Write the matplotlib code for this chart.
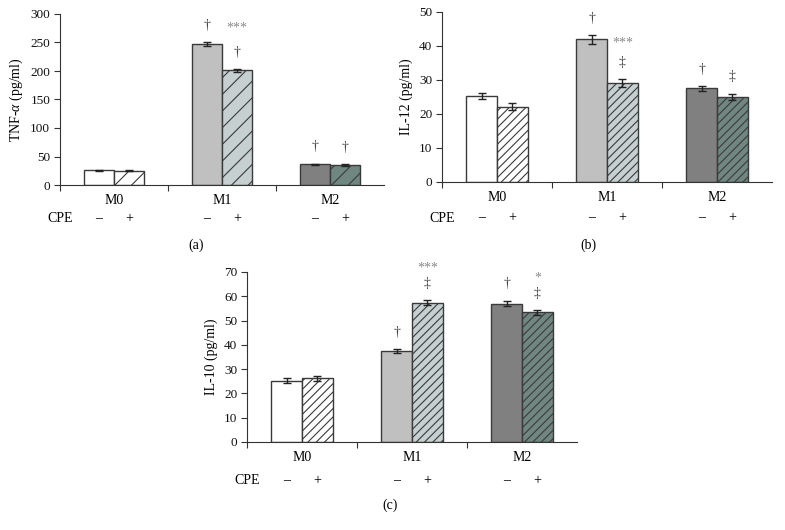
import numpy as np
import matplotlib
matplotlib.use("Agg")
import matplotlib.pyplot as plt

plt.rcParams['font.family'] = ['Liberation Serif', 'DejaVu Serif']
plt.rcParams['mathtext.fontset'] = 'custom'
plt.rcParams['mathtext.it'] = 'Liberation Serif:italic'
plt.rcParams['mathtext.rm'] = 'Liberation Serif'
plt.rcParams['hatch.linewidth'] = 0.8

# --- data ---
groups = ["M0", "M1", "M2"]
cpe_labels = ["–", "+"]

tnf_minus = [26, 247, 36]
tnf_minus_err = [1.0, 3.0, 1.5]
tnf_plus = [25, 201, 35]
tnf_plus_err = [1.0, 3.0, 1.5]
tnf_minus_marks = [[], ["†"], ["†"]]
tnf_plus_marks = [[], ["†", "***"], ["†"]]

il12_minus = [25.3, 42.0, 27.5]
il12_minus_err = [1.0, 1.3, 0.8]
il12_plus = [22.1, 29.1, 25.0]
il12_plus_err = [1.0, 1.1, 1.0]
il12_minus_marks = [[], ["†"], ["†"]]
il12_plus_marks = [[], ["‡", "***"], ["‡"]]

il10_minus = [25.2, 37.5, 57.0]
il10_minus_err = [1.0, 0.8, 1.2]
il10_plus = [26.2, 57.3, 53.4]
il10_plus_err = [1.0, 1.0, 1.0]
il10_minus_marks = [[], ["†"], ["†"]]
il10_plus_marks = [[], ["‡", "***"], ["‡", "*"]]

# colours: plain bar, hatched bar per group
minus_colors = ["#ffffff", "#c0c0c0", "#808080"]
plus_colors = ["#ffffff", "#c6d0d0", "#6f8681"]
edge = "#3a3a3a"

fig = plt.figure(figsize=(7.85, 5.3), dpi=100)
W, H = 785, 530


def px_axes(left, top, right, bottom):
    return fig.add_axes([left / W, 1 - bottom / H, (right - left) / W, (bottom - top) / H])


def panel(ax, minus, minus_err, plus, plus_err, mmarks, pmarks,
          ylabel, ymax, ystep, hatch, cpe_off, gap):
    x = np.arange(len(groups))
    w = 0.28
    for i in range(len(groups)):
        ax.bar(x[i] - w / 2, minus[i], w, color=minus_colors[i], edgecolor=edge,
               linewidth=1.0, zorder=2)
        ax.bar(x[i] + w / 2, plus[i], w, color=plus_colors[i], edgecolor=edge,
               linewidth=1.0, hatch=hatch, zorder=2)
    ax.errorbar(x - w / 2, minus, yerr=minus_err, fmt='none', ecolor='#222222',
                elinewidth=1.0, capsize=3, capthick=1.0, zorder=3)
    ax.errorbar(x + w / 2, plus, yerr=plus_err, fmt='none', ecolor='#222222',
                elinewidth=1.0, capsize=3, capthick=1.0, zorder=3)

    # significance marks stacked above error bars
    for xs, vals, errs, marks in [(x - w / 2, minus, minus_err, mmarks),
                                  (x + w / 2, plus, plus_err, pmarks)]:
        for xi, v, e, mk in zip(xs, vals, errs, marks):
            for k, s in enumerate(mk):
                col = '#8a8a8a' if '*' in s else '#444444'
                ax.annotate(s, (xi, v + e), xytext=(0, 12 + gap * k),
                            textcoords='offset points', ha='center', va='center',
                            fontsize=10, color=col)

    ax.set_xlim(-0.5, len(groups) - 0.5)
    ax.set_ylim(0, ymax)
    ax.set_yticks(np.arange(0, ymax + 1, ystep))
    ax.set_xticks([-0.5, 0.5, 1.5])
    ax.set_xticklabels([])
    ax.tick_params(axis='both', direction='out', length=4, width=0.8,
                   colors='#333333', labelsize=9.5, labelcolor='#111111')
    ax.tick_params(axis='y', pad=3)
    for side in ['top', 'right']:
        ax.spines[side].set_visible(False)
    for side in ['left', 'bottom']:
        ax.spines[side].set_color('#333333')
        ax.spines[side].set_linewidth(0.8)
    ax.set_ylabel(ylabel, fontsize=10, labelpad=4)

    trans = ax.get_xaxis_transform()
    for i, g in enumerate(groups):
        ax.annotate(g, (x[i], 0), xycoords=trans, xytext=(0, -11),
                    textcoords='offset points', ha='center', va='center', fontsize=10)
        ax.annotate(cpe_labels[0], (x[i] - w / 2, 0), xycoords=trans,
                    xytext=(0, -cpe_off), textcoords='offset points',
                    ha='center', va='center', fontsize=10)
        ax.annotate(cpe_labels[1], (x[i] + w / 2, 0), xycoords=trans,
                    xytext=(0, -cpe_off), textcoords='offset points',
                    ha='center', va='center', fontsize=10)
    ax.annotate("CPE", (-0.5, 0), xycoords=trans, xytext=(0, -cpe_off),
                textcoords='offset points', ha='center', va='center', fontsize=10)


ax_a = px_axes(60, 14, 384, 185)
panel(ax_a, tnf_minus, tnf_minus_err, tnf_plus, tnf_plus_err,
      tnf_minus_marks, tnf_plus_marks, r"TNF-$\it{\alpha}$ (pg/ml)", 300, 50, '//', 24, 17)

ax_b = px_axes(442, 12, 772, 182)
panel(ax_b, il12_minus, il12_minus_err, il12_plus, il12_plus_err,
      il12_minus_marks, il12_plus_marks, "IL-12 (pg/ml)", 50, 10, '////', 26, 14)

ax_c = px_axes(247, 272, 577, 442)
panel(ax_c, il10_minus, il10_minus_err, il10_plus, il10_plus_err,
      il10_minus_marks, il10_plus_marks, "IL-10 (pg/ml)", 70, 10, '////', 28, 11)

fig.text(196 / W, 1 - 245 / H, "(a)", ha='center', va='center', fontsize=10)
fig.text(588 / W, 1 - 245 / H, "(b)", ha='center', va='center', fontsize=10)
fig.text(390 / W, 1 - 505 / H, "(c)", ha='center', va='center', fontsize=10)

fig.savefig("out.png", dpi=100)
